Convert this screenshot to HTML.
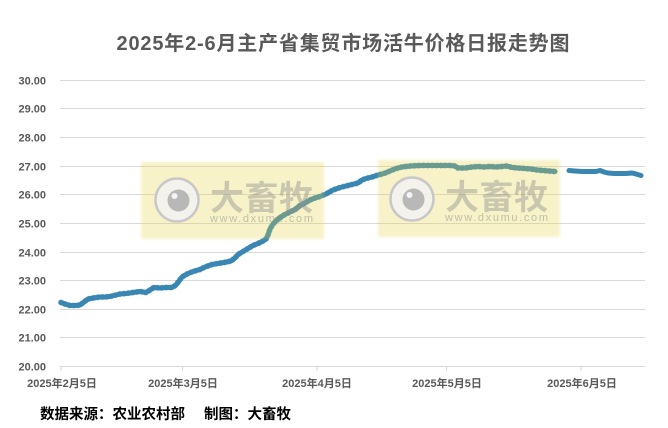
<!DOCTYPE html>
<html>
<head>
<meta charset="utf-8">
<style>
html,body{margin:0;padding:0;background:#fff;}
body{width:668px;height:428px;overflow:hidden;}
svg{display:block;}
text{font-family:"Liberation Sans","Noto Sans CJK SC",sans-serif;}
</style>
</head>
<body>
<svg width="668" height="428" viewBox="0 0 668 428" xmlns="http://www.w3.org/2000/svg">
  <defs>
    <filter id="soft" x="-5%" y="-5%" width="110%" height="110%">
      <feGaussianBlur stdDeviation="1.2"/>
    </filter>
  </defs>
  <rect x="0" y="0" width="668" height="428" fill="#ffffff"/>

  <!-- title -->
  <text x="343" y="50" text-anchor="middle" font-size="20" font-weight="bold" fill="#595959" textLength="453" lengthAdjust="spacing">2025年2-6月主产省集贸市场活牛价格日报走势图</text>

  <!-- gridlines -->
  <g stroke="#d9d9d9" stroke-width="1">
    <line x1="60" y1="80.5" x2="645" y2="80.5"/>
    <line x1="60" y1="108.5" x2="645" y2="108.5"/>
    <line x1="60" y1="137.5" x2="645" y2="137.5"/>
    <line x1="60" y1="166.5" x2="645" y2="166.5"/>
    <line x1="60" y1="194.5" x2="645" y2="194.5"/>
    <line x1="60" y1="223.5" x2="645" y2="223.5"/>
    <line x1="60" y1="252.5" x2="645" y2="252.5"/>
    <line x1="60" y1="280.5" x2="645" y2="280.5"/>
    <line x1="60" y1="309.5" x2="645" y2="309.5"/>
    <line x1="60" y1="337.5" x2="645" y2="337.5"/>
    <line x1="60" y1="366.5" x2="645" y2="366.5"/>
    <!-- ticks -->
    <line x1="61" y1="366" x2="61" y2="371"/>
    <line x1="182.5" y1="366" x2="182.5" y2="371"/>
    <line x1="317" y1="366" x2="317" y2="371"/>
    <line x1="446.5" y1="366" x2="446.5" y2="371"/>
    <line x1="581" y1="366" x2="581" y2="371"/>
  </g>

  <!-- y labels -->
  <g font-size="11" font-weight="bold" fill="#595959" text-anchor="end">
    <text x="46" y="84.5">30.00</text>
    <text x="46" y="112.5">29.00</text>
    <text x="46" y="141.5">28.00</text>
    <text x="46" y="170.5">27.00</text>
    <text x="46" y="198.5">26.00</text>
    <text x="46" y="227.5">25.00</text>
    <text x="46" y="256.5">24.00</text>
    <text x="46" y="284.5">23.00</text>
    <text x="46" y="313.5">22.00</text>
    <text x="46" y="341.5">21.00</text>
    <text x="46" y="370.5">20.00</text>
  </g>

  <!-- x labels -->
  <g font-size="11" font-weight="bold" fill="#595959" text-anchor="middle">
    <text x="62" y="387">2025年2月5日</text>
    <text x="183" y="387">2025年3月5日</text>
    <text x="317" y="387">2025年4月5日</text>
    <text x="447" y="387">2025年5月5日</text>
    <text x="582" y="387">2025年6月5日</text>
  </g>

  <!-- series -->
  <g fill="none" stroke="#3a86b2" stroke-width="5.5" stroke-linejoin="round" stroke-linecap="round" stroke-dasharray="0.1 4.3">
    <polyline stroke-width="6" stroke-opacity="0.6" points="61,302.5 65,304 70,305.5 76,305.5 80,305 84,302 88,299 93,298 100,297 105,297 110,296.5 116,295 120,294 126,293.5 133,292.5 140,291.5 146,292.5 150,290 154,287.5 160,288 166,287.5 172,287.5 176,285 179,281 182,277 187,274 193,271.5 200,269.5 205,267 212,264.5 218,263.5 224,262.5 231,261 235,258 238,254.5 243,251.5 248,248.5 253,245.5 258,243.5 263,241 266,239 268,235 270,229 273,224 278,219 284,215 290,212 295,209.5 300,205.5 305,203 310,200 315,198 320,196.5 326,194 333,190 340,187.5 346,186 352,184.5 358,183 362,180 366,178.5 372,177 378,175 384,173.5 390,171 396,168.5 402,167 410,166 420,165.5 430,165.5 440,165.5 450,165.5 455,166 458,168 465,168 472,167 478,166.5 484,167 490,166.5 496,167 502,166.5 507,166 512,167.5 518,168 525,168.5 531,169 537,170 543,170.5 549,171 555,171.5"/>
  </g>
  <g fill="none" stroke="#3a86b2" stroke-width="5" stroke-linejoin="round" stroke-linecap="round">
    <polyline points="61,302.5 65,304 70,305.5 76,305.5 80,305 84,302 88,299 93,298 100,297 105,297 110,296.5 116,295 120,294 126,293.5 133,292.5 140,291.5 146,292.5 150,290 154,287.5 160,288 166,287.5 172,287.5 176,285 179,281 182,277 187,274 193,271.5 200,269.5 205,267 212,264.5 218,263.5 224,262.5 231,261 235,258 238,254.5 243,251.5 248,248.5 253,245.5 258,243.5 263,241 266,239 268,235 270,229 273,224 278,219 284,215 290,212 295,209.5 300,205.5 305,203 310,200 315,198 320,196.5 326,194 333,190 340,187.5 346,186 352,184.5 358,183 362,180 366,178.5 372,177 378,175 384,173.5 390,171 396,168.5 402,167 410,166 420,165.5 430,165.5 440,165.5 450,165.5 455,166 458,168 465,168 472,167 478,166.5 484,167 490,166.5 496,167 502,166.5 507,166 512,167.5 518,168 525,168.5 531,169 537,170 543,170.5 549,171 555,171.5"/>
    <polyline points="569,170.5 575,171 582,171.5 590,171.5 596,171.5 600,170.5 604,172 608,173 614,173.5 620,173.5 626,173.5 632,173 636,174 641,175.5"/>
  </g>

  <!-- watermark 1 -->
  <g>
    <rect x="141" y="162" width="183" height="77" fill="rgb(230,210,60)" opacity="0.28" filter="url(#soft)"/>
    <circle cx="177" cy="200" r="21.5" fill="#f2f2f2" fill-opacity="0.85" stroke="#c8c8c8" stroke-width="2.5"/>
    <circle cx="178.5" cy="200.5" r="11" fill="#b8b8b8"/>
    <circle cx="174.5" cy="196" r="3" fill="#f4f4f4"/>
    <text x="210" y="210" font-size="34" font-weight="bold" fill="#8c8c8c" fill-opacity="0.42" textLength="103" lengthAdjust="spacing">大畜牧</text>
    <text x="210" y="222" font-size="11" fill="#8c8c8c" fill-opacity="0.5" textLength="103" lengthAdjust="spacing">www.dxumu.com</text>
  </g>

  <!-- watermark 2 -->
  <g>
    <rect x="378" y="160" width="182" height="77" fill="rgb(230,210,60)" opacity="0.28" filter="url(#soft)"/>
    <circle cx="412" cy="199" r="21.5" fill="#f2f2f2" fill-opacity="0.85" stroke="#c8c8c8" stroke-width="2.5"/>
    <circle cx="413.5" cy="199.5" r="11" fill="#b8b8b8"/>
    <circle cx="409.5" cy="195" r="3" fill="#f4f4f4"/>
    <text x="445" y="209" font-size="34" font-weight="bold" fill="#8c8c8c" fill-opacity="0.42" textLength="103" lengthAdjust="spacing">大畜牧</text>
    <text x="445" y="221" font-size="11" fill="#8c8c8c" fill-opacity="0.5" textLength="103" lengthAdjust="spacing">www.dxumu.com</text>
  </g>

  <!-- footer -->
  <text x="40" y="419" font-size="14.5" font-weight="bold" fill="#000">数据来源：农业农村部</text>
  <text x="204" y="419" font-size="14.5" font-weight="bold" fill="#000">制图：大畜牧</text>
</svg>
</body>
</html>
